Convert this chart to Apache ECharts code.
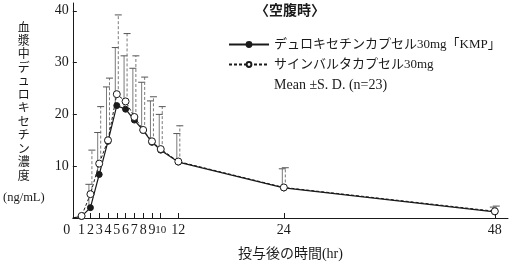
<!DOCTYPE html>
<html><head><meta charset="utf-8">
<script src="https://cdn.jsdelivr.net/npm/echarts@6/dist/echarts.min.js"></script>
<style>html,body{margin:0;padding:0;background:#fff}#c{width:511px;height:266px}</style>
</head><body><div id="c"></div>
<script>
const times = [0, 1, 2, 3, 4, 5, 6, 7, 8, 9, 10, 12, 24, 48];
const kmpMean  = [0, 0.3, 2.0, 8.4, 14.8, 21.7, 21.0, 18.9, 16.9, 14.6, 13.1, 10.8, 5.8, 1.2];
const kmpUpper = [null, null, 6.5, 16.5, 25.3, 32.9, 31.3, 28.9, 26.2, 22.6, 20.0, 16.3, 9.5, 2.1];
const sinMean  = [0, 0.4, 4.6, 10.5, 15.0, 23.9, 22.5, 19.5, 17.0, 14.8, 13.3, 10.9, 5.9, 1.3];
const sinUpper = [null, null, 13.1, 21.5, 27.0, 39.2, 35.6, 31.3, 27.2, 23.4, 21.5, 17.8, 9.7, 2.3];
const xTicks = [1, 2, 3, 4, 5, 6, 7, 8, 9, 10, 12, 24, 48];
const xLabels = [0, 1, 2, 3, 4, 5, 6, 7, 8, 9, 10, 12, 24, 48];
const yTicks = [10, 20, 30, 40];
const nameKMP = 'デュロキセチンカプセル30mg「KMP」';
const nameSin = 'サインバルタカプセル30mg';
const nameSD = 'Mean ±S. D. (n=23)';
const titleText = '〈空腹時〉';
const yName = '血漿中デュロキセチン濃度';
const yUnit = '(ng/mL)';
const xName = '投与後の時間(hr)';

const FONT = '"Liberation Serif", "Noto Sans CJK JP", serif';
const ink = '#1a1a1a';

const errData = [];
times.forEach((t, i) => {
  if (kmpUpper[i] != null) errData.push([t, kmpMean[i], kmpUpper[i], 0]);
  if (sinUpper[i] != null) errData.push([t, sinMean[i], sinUpper[i], 1]);
});

function lineData(means) {
  return times.map((t, i) => i === 0 ? { value: [t, means[i]], symbol: 'none' } : [t, means[i]]);
}

const chart = echarts.init(document.getElementById('c'), null, { renderer: 'canvas' });
chart.setOption({
  animation: false,
  backgroundColor: '#fff',
  title: {
    text: titleText, left: 255, top: 3, padding: 0,
    textStyle: { fontFamily: '"Noto Sans CJK JP", sans-serif', fontSize: 14, fontWeight: 'bold', color: ink }
  },
  legend: {
    orient: 'vertical', left: 228, top: 38, padding: 0,
    itemWidth: 40, itemHeight: 6, itemGap: 7,
    selectedMode: false,
    textStyle: { fontFamily: FONT, fontSize: 13, color: ink },
    data: [
      { name: nameKMP },
      { name: nameSin },
      { name: nameSD, icon: 'rect', itemStyle: { color: 'rgba(0,0,0,0)', borderColor: 'rgba(0,0,0,0)' },
        textStyle: { fontFamily: FONT, fontSize: 14, color: ink } }
    ]
  },
  grid: { left: 72, right: 3, top: 3, bottom: 42, containLabel: false },
  xAxis: {
    type: 'value', min: 0, max: 49.5,
    name: xName, nameLocation: 'middle', nameGap: 36,
    nameTextStyle: { fontFamily: FONT, fontSize: 14, color: ink, align: 'center', verticalAlign: 'middle' },
    axisLine: { show: true, onZero: false, lineStyle: { color: ink, width: 1 } },
    axisTick: { show: true, inside: true, length: 5, customValues: xTicks, lineStyle: { color: ink } },
    splitLine: { show: false },
    axisLabel: {
      customValues: xLabels, margin: 5, color: ink, fontFamily: FONT, fontSize: 14,
      formatter: v => v === 0 ? '{z|0}' : (v === 10 ? '{t|10}' : String(v)),
      rich: {
        z: { fontFamily: FONT, fontSize: 14, color: ink, padding: [0, 12, 0, 0] },
        t: { fontFamily: FONT, fontSize: 11, color: ink, padding: [2, 0, 0, 0] }
      }
    }
  },
  yAxis: {
    type: 'value', min: 0, max: 41.5,
    name: yName.split('').map(c => '{a|' + c + '}').join('\n') + '\n{b|' + yUnit + '}',
    nameLocation: 'middle', nameGap: 49, nameRotate: 0,
    nameTextStyle: {
      align: 'center', verticalAlign: 'middle', padding: [13, 0, 0, 0],
      rich: {
        a: { fontFamily: '"Noto Sans CJK JP", sans-serif', fontSize: 12, lineHeight: 13.45, color: ink, align: 'center' },
        b: { fontFamily: FONT, fontSize: 12.5, lineHeight: 32, color: ink, align: 'center' }
      }
    },
    axisLine: { show: true, lineStyle: { color: ink, width: 1 } },
    axisTick: { show: true, inside: true, length: 4, customValues: yTicks, lineStyle: { color: ink } },
    splitLine: { show: false },
    axisLabel: { customValues: yTicks, margin: 4, color: ink, fontFamily: FONT, fontSize: 14 }
  },
  series: [
    {
      name: nameSD, type: 'custom', z: 1,
      data: errData,
      renderItem: function (params, api) {
        const base = api.coord([api.value(0), api.value(1)]);
        const top = api.coord([api.value(0), api.value(2)]);
        const which = api.value(3);
        const x = base[0] + (which === 0 ? -1.5 : 1.5);
        const col = '#7a7a7a';
        return {
          type: 'group',
          children: [
            { type: 'line', shape: { x1: x, y1: base[1], x2: x, y2: top[1] },
              style: { stroke: col, lineWidth: 1, lineDash: which === 1 ? [3, 2] : null } },
            { type: 'line', shape: { x1: x - 3.5, y1: top[1], x2: x + 3.5, y2: top[1] },
              style: { stroke: '#555', lineWidth: 1 } }
          ]
        };
      }
    },
    {
      name: nameKMP, type: 'line', z: 3,
      data: lineData(kmpMean),
      symbol: 'circle', symbolSize: 6,
      lineStyle: { color: ink, width: 1.2, type: 'solid' },
      itemStyle: { color: ink, borderColor: ink, borderWidth: 1 }
    },
    {
      name: nameSin, type: 'line', z: 4,
      data: lineData(sinMean),
      symbol: 'circle', symbolSize: 7,
      lineStyle: { color: ink, width: 1, type: [3, 2] },
      itemStyle: { color: '#fff', borderColor: ink, borderWidth: 1 }
    }
  ]
});
</script></body></html>
